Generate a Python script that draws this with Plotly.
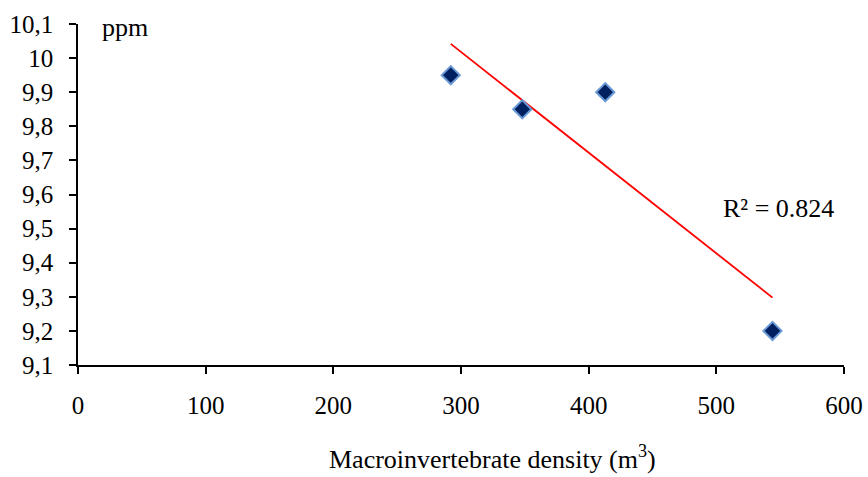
import numpy as np
import plotly.graph_objects as go

density = [292, 348, 413, 544]
ppm = [9.95, 9.85, 9.90, 9.20]

y_ticks = [9.1, 9.2, 9.3, 9.4, 9.5, 9.6, 9.7, 9.8, 9.9, 10.0, 10.1]
y_tick_labels = ["9,1", "9,2", "9,3", "9,4", "9,5", "9,6", "9,7", "9,8", "9,9", "10", "10,1"]
x_ticks = [0, 100, 200, 300, 400, 500, 600]

slope, intercept = np.polyfit(density, ppm, 1)
tx = [min(density), max(density)]
ty = [slope * v + intercept for v in tx]

FONT = "Liberation Serif, Times New Roman, serif"
FS_TICK = 25
FS_TEXT = 26

fig = go.Figure()
fig.add_trace(go.Scatter(
    x=tx, y=ty, mode="lines",
    line=dict(color="#FF0000", width=1.8),
    showlegend=False, hoverinfo="skip",
))
fig.add_trace(go.Scatter(
    x=density, y=ppm, mode="markers",
    marker=dict(symbol="diamond", size=14, color="#00205F",
                line=dict(color="#6A9AD6", width=2)),
    showlegend=False,
))

fig.update_layout(
    width=868, height=477,
    margin=dict(l=78, r=24, t=24, b=112),
    paper_bgcolor="white", plot_bgcolor="white",
    font=dict(family=FONT, size=FS_TICK, color="black"),
    xaxis=dict(
        range=[0, 600], tickvals=x_ticks, showgrid=False, zeroline=False,
        showline=True, linecolor="black", linewidth=1.5, automargin=False,
        ticks="outside", ticklen=7, tickcolor="black", tickwidth=1.5,
        tickfont=dict(family=FONT, size=FS_TICK, color="black"),
        ticklabelstandoff=10,
    ),
    yaxis=dict(
        range=[9.1, 10.1], tickvals=y_ticks, ticktext=y_tick_labels,
        showgrid=False, zeroline=False, automargin=False,
        showline=True, linecolor="black", linewidth=1.5,
        ticks="outside", ticklen=7, tickcolor="black", tickwidth=1.5,
        tickfont=dict(family=FONT, size=FS_TICK, color="black"),
        ticklabelstandoff=11,
    ),
    annotations=[
        dict(text="ppm", x=0.0287, y=1.0, xref="paper", yref="paper",
             xanchor="left", yanchor="middle", yshift=-3, showarrow=False,
             font=dict(family=FONT, size=FS_TEXT, color="black")),
        dict(text="R² = 0.824", x=504, y=9.56, xref="x", yref="y",
             xanchor="left", yanchor="middle", showarrow=False,
             font=dict(family=FONT, size=FS_TEXT, color="black")),
        dict(text="Macroinvertebrate density (m<sup>3</sup>)",
             x=0.325, y=-0.272, xref="paper", yref="paper",
             xanchor="left", yanchor="middle", showarrow=False,
             font=dict(family=FONT, size=FS_TEXT, color="black")),
    ],
)

fig.write_html("out.html")
